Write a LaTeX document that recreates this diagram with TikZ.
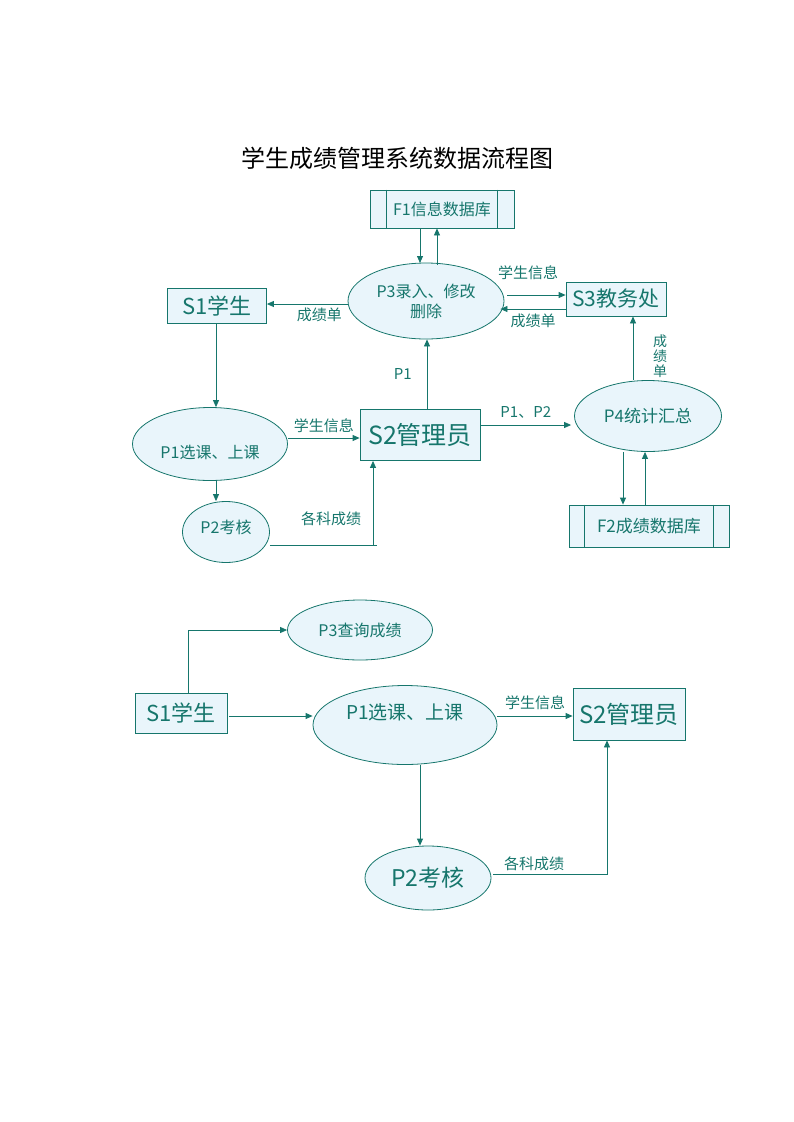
\documentclass[tikz,border=0pt]{standalone}
\usepackage{fontspec}
\setmainfont{Noto Sans CJK SC}
\usepackage{tikz}
\usetikzlibrary{arrows.meta}
\usetikzlibrary{positioning}
\usetikzlibrary{shapes.geometric}
\definecolor{dfdline}{RGB}{22,118,108}
\definecolor{dfdfill}{RGB}{233,245,251}
\newcommand{\fs}[1]{\fontsize{#1}{#1}\selectfont}
\tikzset{Ent/.style={draw=dfdline, fill=dfdfill, text=dfdline, thick, inner sep=0pt},
         Proc/.style={ellipse, draw=dfdline, fill=dfdfill, text=dfdline, thick, inner sep=0pt, align=center},
         Store/.style={draw=dfdline, fill=dfdfill, text=dfdline, thick, inner sep=0pt},
         Ptxt/.style={text=dfdline, inner sep=0pt},
         Lbl/.style={text=dfdline, inner sep=1pt, font=\fs{15}},
         Flow/.style={draw=dfdline, thick, -{Triangle[length=7pt,width=6pt]}}}

\begin{document}
\begin{tikzpicture}[x=1pt, y={(0,-1pt)}]
  \useasboundingbox (0,0) rectangle (793,1122);
  \node (T) at (397,158) {\fs{24}学生成绩管理系统数据流程图};
  % upper diagram
  \node[Store, minimum width=144, minimum height=38, font=\fs{16}] (F1) at (442,209) {F1信息数据库};
  \draw[dfdline, thick] ([xshift=17]F1.north west) -- ([xshift=17]F1.south west)
                        ([xshift=-17]F1.north east) -- ([xshift=-17]F1.south east);
  \node[Proc, minimum width=156, minimum height=76, font=\fs{16}] (P3) at (426,301) {P3录入、修改\\[4pt]删除};
  \node[Ent, minimum width=99, minimum height=35, font=\fs{22}] (S1) at (217,306) {S1学生};
  \node[Ent, minimum width=100, minimum height=34, font=\fs{21}] (S3) at (616,299) {S3教务处};
  \node[Proc, minimum width=155, minimum height=73,
        label={[Ptxt, font=\fs{16}, yshift=-8]center:P1选课、上课}] (P1) at (210,444) {};
  \node[Ent, minimum width=120, minimum height=51, font=\fs{25}] (S2) at (420,435) {S2管理员};
  \node[Proc, minimum width=147, minimum height=71, font=\fs{17}] (P4) at (648,416) {P4统计汇总};
  \node[Store, minimum width=160, minimum height=42, font=\fs{17}] (F2) at (649,526) {F2成绩数据库};
  \draw[dfdline, thick] ([xshift=16]F2.north west) -- ([xshift=16]F2.south west)
                        ([xshift=-16]F2.north east) -- ([xshift=-16]F2.south east);
  \node[Proc, minimum width=87, minimum height=61,
        label={[Ptxt, font=\fs{16}, yshift=5]center:P2考核}] (P2) at (226,532) {};

  \draw[Flow] ([xshift=-22]F1.south) -- ([xshift=-22]F1.south |- 0,263);
  \draw[Flow] ([xshift=-5]F1.south |- 0,265) -- ([xshift=-5]F1.south);
  \draw[Flow] (P3.west |- 0,304) -- (S1.east |- 0,304) node[Lbl, pos=0.35, below=3pt] {成绩单};
  \draw[Flow] ([xshift=3]P3.east |- 0,295) -- (S3.west |- 0,295);
  \node[Lbl] (L2) at (528,273) {学生信息};
  \draw[Flow] (S3.west |- 0,309) -- ([xshift=-4]P3.east |- 0,309) node[Lbl, midway, below=4pt] {成绩单};
  \draw[Flow] ([xshift=-15]P4.north) -- ([xshift=17]S3.south);
  \node[Lbl, align=center, font=\fs{14}] (L3) at (660,356) {成\\[1pt]绩\\[1pt]单};
  \draw[Flow] (S1.south -| 216,0) -- (P1.north -| 216,0);
  \draw[Flow] (P1.east |- 0,438) -- (S2.west |- 0,438) node[Lbl, midway, above=4pt] {学生信息};
  \draw[Flow] ([xshift=7]S2.north) -- ([xshift=1]P3.south) node[Lbl, midway, left=14pt] {P1};
  \draw[Flow] (S2.east |- 0,425) -- ([xshift=-3]P4.west |- 0,425) node[Lbl, midway, above=5pt] {P1、P2};
  \draw[Flow] (P4.south -| 623,0) -- (F2.north -| 623,0);
  \draw[Flow] (F2.north -| 645,0) -- (P4.south -| 645,0);
  \draw[Flow] (P1.south -| 216,0) -- (P2.north -| 216,0);
  \draw[Flow] (P2.east |- 0,545) -- (373,545) -- (S2.south -| 373,0);
  \draw[dfdline, thick] (373,545) -- (377,545);
  \node[Lbl] (L1) at (331,519) {各科成绩};

  % lower diagram
  \node[Proc, minimum width=145, minimum height=60, font=\fs{16}] (Q3) at (360,630) {P3查询成绩};
  \node[Ent, minimum width=92, minimum height=40, font=\fs{22}] (R1) at (181,713) {S1学生};
  \node[Proc, minimum width=184, minimum height=79,
        label={[Ptxt, font=\fs{19}, yshift=13]center:P1选课、上课}] (Q1) at (405,725) {};
  \node[Ent, minimum width=112, minimum height=52, font=\fs{24}] (R2) at (629,714) {S2管理员};
  \node[Proc, minimum width=126, minimum height=64, font=\fs{23}] (Q2) at (428,878) {P2考核};

  \draw[Flow] (R1.north -| 188,0) -- (188,630) -- (Q3.west);
  \draw[Flow] ([xshift=2]R1.east |- 0,716) -- (Q1.west |- 0,716);
  \draw[Flow] (Q1.east |- 0,716) -- (R2.west |- 0,716) node[Lbl, midway, above=5pt] {学生信息};
  \draw[Flow] (Q1.south -| 420,0) -- (Q2.north -| 420,0);
  \draw[Flow] ([xshift=2]Q2.east |- 0,874) -- (607,874) -- (R2.south -| 607,0);
  \node[Lbl] (L4) at (534,864) {各科成绩};
\end{tikzpicture}
\end{document}
